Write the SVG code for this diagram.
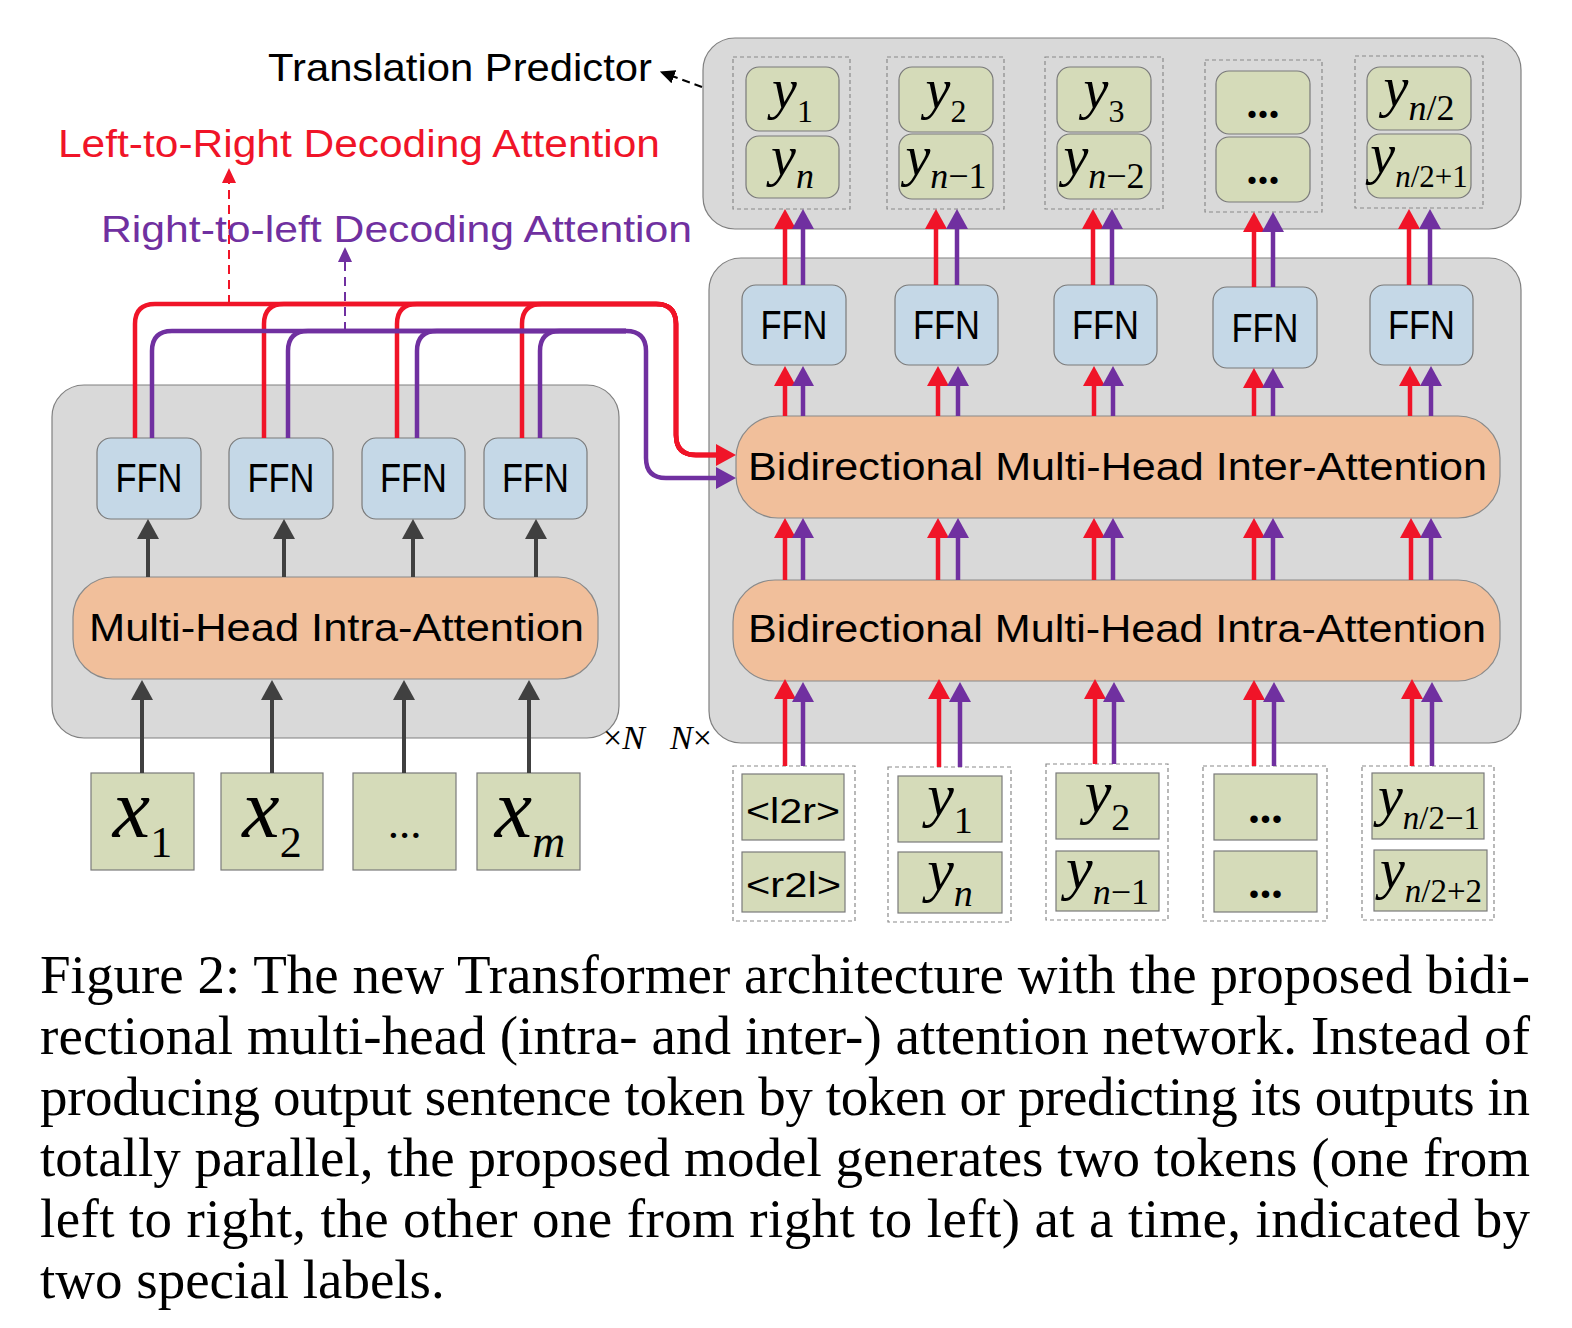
<svg xmlns="http://www.w3.org/2000/svg" width="1572" height="1328" viewBox="0 0 1572 1328">
<style>
.bg{fill:#d9d9d9;stroke:#808080;stroke-width:1.2}
.ffn{fill:#c5d8e7;stroke:#7a7a7a;stroke-width:1.2}
.att{fill:#f1bf9b;stroke:#8a8a8a;stroke-width:1.2}
.tok{fill:#d5dbb9;stroke:#7a7a7a;stroke-width:1.2}
.grp{fill:none;stroke:#8a8a8a;stroke-width:1.2;stroke-dasharray:4 3}
.sans{font-family:"Liberation Sans",Arial,sans-serif}
.serif{font-family:"Liberation Serif","Times New Roman",serif}
.lbl{font-family:"Liberation Sans",Arial,sans-serif;fill:#000}
.r{stroke:#f01428;stroke-width:4.5;fill:none}
.p{stroke:#7030a0;stroke-width:4.5;fill:none}
.k{stroke:#404040;stroke-width:4;fill:none}
.math{font-family:"Liberation Serif","Times New Roman",serif;fill:#000}
.it{font-style:italic}
.cap{font-family:"Liberation Serif","Times New Roman",serif;font-size:55px;fill:#000}
</style>
<defs>
<marker id="hr" viewBox="0 0 20 22" markerWidth="20" markerHeight="22" refX="3" refY="11" orient="auto" markerUnits="userSpaceOnUse"><path d="M0,0 L20,11 L0,22 z" fill="#f01428"/></marker>
<marker id="hp" viewBox="0 0 20 22" markerWidth="20" markerHeight="22" refX="3" refY="11" orient="auto" markerUnits="userSpaceOnUse"><path d="M0,0 L20,11 L0,22 z" fill="#7030a0"/></marker>
<marker id="hk" viewBox="0 0 20 22" markerWidth="20" markerHeight="22" refX="3" refY="11" orient="auto" markerUnits="userSpaceOnUse"><path d="M0,0 L20,11 L0,22 z" fill="#404040"/></marker>
<marker id="hrs" viewBox="0 0 15 14" markerWidth="15" markerHeight="14" refX="2" refY="7" orient="auto" markerUnits="userSpaceOnUse"><path d="M0,0 L15,7 L0,14 z" fill="#f01428"/></marker>
<marker id="hps" viewBox="0 0 15 14" markerWidth="15" markerHeight="14" refX="2" refY="7" orient="auto" markerUnits="userSpaceOnUse"><path d="M0,0 L15,7 L0,14 z" fill="#7030a0"/></marker>
<marker id="hks" viewBox="0 0 15 14" markerWidth="15" markerHeight="14" refX="2" refY="7" orient="auto" markerUnits="userSpaceOnUse"><path d="M0,0 L15,7 L0,14 z" fill="#000"/></marker>
</defs>
<rect width="1572" height="1328" fill="#fff"/>

<!-- containers -->
<g id="encoder-block"><rect class="bg" x="52" y="385" width="567" height="353" rx="32"/></g>
<g id="decoder-block"><rect class="bg" x="709" y="258" width="812" height="485" rx="32"/></g>
<g id="translation-predictor"><rect class="bg" x="703" y="38" width="818" height="191" rx="32"/></g>

<!-- labels -->
<g id="labels">
<text class="lbl" x="268" y="81" font-size="39" textLength="384" lengthAdjust="spacingAndGlyphs">Translation Predictor</text>
<text class="lbl" x="58" y="157" font-size="38" fill="#f01428" style="fill:#f01428" textLength="602" lengthAdjust="spacingAndGlyphs">Left-to-Right Decoding Attention</text>
<text class="lbl" x="101" y="242" font-size="37" style="fill:#7030a0" textLength="591" lengthAdjust="spacingAndGlyphs">Right-to-left Decoding Attention</text>
<text class="math" x="603" y="749" font-size="34">×<tspan class="it">N</tspan></text>
<text class="math" x="670" y="749" font-size="34"><tspan class="it">N</tspan>×</text>
</g>

<!-- encoder nodes -->
<g id="enc-ffn-1"><rect class="ffn" x="97" y="438" width="104" height="81" rx="14"/><text class="lbl" x="149" y="492" font-size="40" text-anchor="middle" textLength="67" lengthAdjust="spacingAndGlyphs">FFN</text></g>
<g id="enc-ffn-2"><rect class="ffn" x="229" y="438" width="104" height="81" rx="14"/><text class="lbl" x="281" y="492" font-size="40" text-anchor="middle" textLength="67" lengthAdjust="spacingAndGlyphs">FFN</text></g>
<g id="enc-ffn-3"><rect class="ffn" x="362" y="438" width="103" height="81" rx="14"/><text class="lbl" x="413.5" y="492" font-size="40" text-anchor="middle" textLength="67" lengthAdjust="spacingAndGlyphs">FFN</text></g>
<g id="enc-ffn-4"><rect class="ffn" x="484" y="438" width="103" height="81" rx="14"/><text class="lbl" x="535.5" y="492" font-size="40" text-anchor="middle" textLength="67" lengthAdjust="spacingAndGlyphs">FFN</text></g>
<g id="enc-attention"><rect class="att" x="73" y="577" width="525" height="102" rx="40"/><text class="lbl" x="89" y="641" font-size="39" textLength="495" lengthAdjust="spacingAndGlyphs">Multi-Head Intra-Attention</text></g>

<g id="enc-x1"><rect class="tok" x="91" y="773" width="103" height="97"/><text class="math" x="142.5" y="837" font-size="84" text-anchor="middle"><tspan class="it">x</tspan><tspan font-size="44" dy="20">1</tspan></text></g>
<g id="enc-x2"><rect class="tok" x="221" y="773" width="102" height="97"/><text class="math" x="272" y="837" font-size="84" text-anchor="middle"><tspan class="it">x</tspan><tspan font-size="44" dy="20">2</tspan></text></g>
<g id="enc-xdots"><rect class="tok" x="353" y="773" width="103" height="97"/><text class="math" x="404.5" y="838" font-size="45" text-anchor="middle">...</text></g>
<g id="enc-xm"><rect class="tok" x="477" y="773" width="103" height="97"/><text class="math" x="530" y="837" font-size="84" text-anchor="middle"><tspan class="it">x</tspan><tspan class="it" font-size="46" dy="20">m</tspan></text></g>

<!-- decoder nodes -->
<g id="dec-ffn-1"><rect class="ffn" x="742" y="285" width="104" height="80" rx="14"/><text class="lbl" x="794" y="339" font-size="40" text-anchor="middle" textLength="67" lengthAdjust="spacingAndGlyphs">FFN</text></g>
<g id="dec-ffn-2"><rect class="ffn" x="895" y="285" width="103" height="80" rx="14"/><text class="lbl" x="946.5" y="339" font-size="40" text-anchor="middle" textLength="67" lengthAdjust="spacingAndGlyphs">FFN</text></g>
<g id="dec-ffn-3"><rect class="ffn" x="1054" y="285" width="103" height="80" rx="14"/><text class="lbl" x="1105.5" y="339" font-size="40" text-anchor="middle" textLength="67" lengthAdjust="spacingAndGlyphs">FFN</text></g>
<g id="dec-ffn-4"><rect class="ffn" x="1213" y="287" width="104" height="81" rx="14"/><text class="lbl" x="1265" y="342" font-size="40" text-anchor="middle" textLength="67" lengthAdjust="spacingAndGlyphs">FFN</text></g>
<g id="dec-ffn-5"><rect class="ffn" x="1370" y="285" width="103" height="80" rx="14"/><text class="lbl" x="1421.5" y="339" font-size="40" text-anchor="middle" textLength="67" lengthAdjust="spacingAndGlyphs">FFN</text></g>
<g id="dec-inter-attention"><rect class="att" x="736" y="416" width="764" height="102" rx="42"/><text class="lbl" x="748" y="480" font-size="38" textLength="739" lengthAdjust="spacingAndGlyphs">Bidirectional Multi-Head Inter-Attention</text></g>
<g id="dec-intra-attention"><rect class="att" x="733" y="580" width="767" height="101" rx="42"/><text class="lbl" x="748" y="642" font-size="38" textLength="738" lengthAdjust="spacingAndGlyphs">Bidirectional Multi-Head Intra-Attention</text></g>

<!-- decoder inputs -->
<g id="in-col-1"><rect class="grp" x="733" y="766" width="122" height="155"/>
<rect class="tok" x="742" y="774" width="102" height="66"/><text class="lbl" x="793" y="823" font-size="35" text-anchor="middle" textLength="94" lengthAdjust="spacingAndGlyphs">&lt;l2r&gt;</text>
<rect class="tok" x="742" y="852" width="103" height="60"/><text class="lbl" x="793.5" y="897" font-size="35" text-anchor="middle" textLength="95" lengthAdjust="spacingAndGlyphs">&lt;r2l&gt;</text></g>
<g id="in-col-2"><rect class="grp" x="888" y="767" width="123" height="155"/>
<rect class="tok" x="898" y="776" width="104" height="66"/><text class="math" x="950" y="815" font-size="60" text-anchor="middle"><tspan class="it">y</tspan><tspan font-size="38" dy="18">1</tspan></text>
<rect class="tok" x="898" y="852" width="104" height="61"/><text class="math" x="950" y="890" font-size="60" text-anchor="middle"><tspan class="it">y</tspan><tspan class="it" font-size="38" dy="16">n</tspan></text></g>
<g id="in-col-3"><rect class="grp" x="1046" y="764" width="122" height="156"/>
<rect class="tok" x="1056" y="773" width="103" height="66"/><text class="math" x="1107.5" y="812" font-size="60" text-anchor="middle"><tspan class="it">y</tspan><tspan font-size="38" dy="18">2</tspan></text>
<rect class="tok" x="1056" y="851" width="103" height="60"/><text class="math" x="1107.5" y="888" font-size="60" text-anchor="middle"><tspan class="it">y</tspan><tspan font-size="36" dy="16"><tspan class="it">n</tspan>−1</tspan></text></g>
<g id="in-col-4"><rect class="grp" x="1203" y="766" width="124" height="155"/>
<rect class="tok" x="1214" y="774" width="103" height="66"/><text class="math" x="1265.5" y="823" font-size="46" font-weight="bold" text-anchor="middle">...</text>
<rect class="tok" x="1214" y="851" width="103" height="61"/><text class="math" x="1265.5" y="898" font-size="46" font-weight="bold" text-anchor="middle">...</text></g>
<g id="in-col-5"><rect class="grp" x="1362" y="766" width="132" height="154"/>
<rect class="tok" x="1372" y="773" width="112" height="66"/><text class="math" x="1429" y="815" font-size="56" text-anchor="middle"><tspan class="it">y</tspan><tspan font-size="33" dy="14"><tspan class="it">n</tspan>/2−1</tspan></text>
<rect class="tok" x="1374" y="850" width="113" height="61"/><text class="math" x="1431" y="888" font-size="56" text-anchor="middle"><tspan class="it">y</tspan><tspan font-size="33" dy="14"><tspan class="it">n</tspan>/2+2</tspan></text></g>

<!-- outputs -->
<g id="out-col-1"><rect class="grp" x="733" y="57" width="117" height="152"/>
<rect class="tok" x="746" y="67" width="93" height="64" rx="13"/><text class="math" x="792.5" y="108" font-size="56" text-anchor="middle"><tspan class="it">y</tspan><tspan font-size="32" dy="14">1</tspan></text>
<rect class="tok" x="746" y="136" width="93" height="62" rx="13"/><text class="math" x="792.5" y="175" font-size="56" text-anchor="middle"><tspan class="it">y</tspan><tspan class="it" font-size="36" dy="13">n</tspan></text></g>
<g id="out-col-2"><rect class="grp" x="887" y="57" width="117" height="152"/>
<rect class="tok" x="899" y="67" width="94" height="65" rx="13"/><text class="math" x="946" y="108" font-size="56" text-anchor="middle"><tspan class="it">y</tspan><tspan font-size="32" dy="14">2</tspan></text>
<rect class="tok" x="899" y="134" width="94" height="65" rx="13"/><text class="math" x="946" y="175" font-size="56" text-anchor="middle"><tspan class="it">y</tspan><tspan font-size="36" dy="13"><tspan class="it">n</tspan>−1</tspan></text></g>
<g id="out-col-3"><rect class="grp" x="1045" y="57" width="118" height="152"/>
<rect class="tok" x="1057" y="67" width="94" height="65" rx="13"/><text class="math" x="1104" y="108" font-size="56" text-anchor="middle"><tspan class="it">y</tspan><tspan font-size="32" dy="14">3</tspan></text>
<rect class="tok" x="1057" y="134" width="94" height="65" rx="13"/><text class="math" x="1104" y="175" font-size="56" text-anchor="middle"><tspan class="it">y</tspan><tspan font-size="36" dy="13"><tspan class="it">n</tspan>−2</tspan></text></g>
<g id="out-col-4"><rect class="grp" x="1205" y="60" width="117" height="152"/>
<rect class="tok" x="1216" y="71" width="94" height="63" rx="13"/><text class="math" x="1263" y="118" font-size="44" font-weight="bold" text-anchor="middle">...</text>
<rect class="tok" x="1216" y="137" width="94" height="65" rx="13"/><text class="math" x="1263" y="184" font-size="44" font-weight="bold" text-anchor="middle">...</text></g>
<g id="out-col-5"><rect class="grp" x="1355" y="56" width="128" height="152"/>
<rect class="tok" x="1367" y="67" width="104" height="63" rx="13"/><text class="math" x="1419" y="106" font-size="56" text-anchor="middle"><tspan class="it">y</tspan><tspan font-size="36" dy="14"><tspan class="it">n</tspan>/2</tspan></text>
<rect class="tok" x="1367" y="134" width="104" height="64" rx="13"/><text class="math" x="1419" y="173" font-size="56" text-anchor="middle"><tspan class="it">y</tspan><tspan font-size="31" dy="14"><tspan class="it">n</tspan>/2+1</tspan></text></g>

<!-- connectors -->
<g id="connectors">
<!-- encoder dark arrows -->
<line class="k" x1="148" y1="577" x2="148" y2="536" marker-end="url(#hk)"/>
<line class="k" x1="284" y1="577" x2="284" y2="536" marker-end="url(#hk)"/>
<line class="k" x1="413" y1="577" x2="413" y2="536" marker-end="url(#hk)"/>
<line class="k" x1="536" y1="577" x2="536" y2="536" marker-end="url(#hk)"/>
<line class="k" x1="142" y1="773" x2="142" y2="697" marker-end="url(#hk)"/>
<line class="k" x1="272" y1="773" x2="272" y2="697" marker-end="url(#hk)"/>
<line class="k" x1="404" y1="773" x2="404" y2="697" marker-end="url(#hk)"/>
<line class="k" x1="529" y1="773" x2="529" y2="697" marker-end="url(#hk)"/>

<!-- encoder to decoder routes -->
<path class="r" d="M135,438 V324 Q135,304 155,304 H656 Q676,304 676,324 V435 Q676,455 696,455 H719" marker-end="url(#hr)"/>
<path class="r" d="M264,438 V324 Q264,304 284,304 H656 Q676,304 676,324 V435 Q676,455 696,455 H719"/>
<path class="r" d="M397,438 V324 Q397,304 417,304 H656 Q676,304 676,324 V435 Q676,455 696,455 H719"/>
<path class="r" d="M522,438 V324 Q522,304 542,304 H656 Q676,304 676,324 V435 Q676,455 696,455 H719"/>
<path class="p" d="M152,438 V351 Q152,331 172,331 H626 Q646,331 646,351 V458 Q646,478 666,478 H719" marker-end="url(#hp)"/>
<path class="p" d="M288,438 V351 Q288,331 308,331 H626"/>
<path class="p" d="M417,438 V351 Q417,331 437,331 H626"/>
<path class="p" d="M540,438 V351 Q540,331 560,331 H626"/>
<line x1="229" y1="304" x2="229" y2="181" stroke="#f01428" stroke-width="2" stroke-dasharray="9 6" marker-end="url(#hrs)"/>
<line x1="345" y1="331" x2="345" y2="260" stroke="#7030a0" stroke-width="2" stroke-dasharray="9 6" marker-end="url(#hps)"/>
<line x1="702" y1="87" x2="672" y2="76" stroke="#000" stroke-width="2" stroke-dasharray="8 5" marker-end="url(#hks)"/>

<!-- decoder columns: red -->
<line class="r" x1="785" y1="766" x2="785" y2="696" marker-end="url(#hr)"/>
<line class="r" x1="785" y1="580" x2="785" y2="535" marker-end="url(#hr)"/>
<line class="r" x1="785" y1="416" x2="785" y2="383" marker-end="url(#hr)"/>
<line class="r" x1="785" y1="285" x2="785" y2="226" marker-end="url(#hr)"/>
<line class="r" x1="939" y1="767" x2="939" y2="696" marker-end="url(#hr)"/>
<line class="r" x1="938" y1="580" x2="938" y2="535" marker-end="url(#hr)"/>
<line class="r" x1="938" y1="416" x2="938" y2="383" marker-end="url(#hr)"/>
<line class="r" x1="936" y1="285" x2="936" y2="226" marker-end="url(#hr)"/>
<line class="r" x1="1095" y1="764" x2="1095" y2="696" marker-end="url(#hr)"/>
<line class="r" x1="1094" y1="580" x2="1094" y2="535" marker-end="url(#hr)"/>
<line class="r" x1="1094" y1="416" x2="1094" y2="383" marker-end="url(#hr)"/>
<line class="r" x1="1093" y1="285" x2="1093" y2="226" marker-end="url(#hr)"/>
<line class="r" x1="1254" y1="766" x2="1254" y2="697" marker-end="url(#hr)"/>
<line class="r" x1="1254" y1="580" x2="1254" y2="535" marker-end="url(#hr)"/>
<line class="r" x1="1254" y1="416" x2="1254" y2="385" marker-end="url(#hr)"/>
<line class="r" x1="1254" y1="287" x2="1254" y2="229" marker-end="url(#hr)"/>
<line class="r" x1="1412" y1="766" x2="1412" y2="696" marker-end="url(#hr)"/>
<line class="r" x1="1411" y1="580" x2="1411" y2="535" marker-end="url(#hr)"/>
<line class="r" x1="1410" y1="416" x2="1410" y2="383" marker-end="url(#hr)"/>
<line class="r" x1="1409" y1="285" x2="1409" y2="226" marker-end="url(#hr)"/>
<!-- decoder columns: purple -->
<line class="p" x1="803" y1="766" x2="803" y2="699" marker-end="url(#hp)"/>
<line class="p" x1="803" y1="580" x2="803" y2="535" marker-end="url(#hp)"/>
<line class="p" x1="803" y1="416" x2="803" y2="383" marker-end="url(#hp)"/>
<line class="p" x1="803" y1="285" x2="803" y2="226" marker-end="url(#hp)"/>
<line class="p" x1="960" y1="767" x2="960" y2="699" marker-end="url(#hp)"/>
<line class="p" x1="958" y1="580" x2="958" y2="535" marker-end="url(#hp)"/>
<line class="p" x1="958" y1="416" x2="958" y2="383" marker-end="url(#hp)"/>
<line class="p" x1="957" y1="285" x2="957" y2="226" marker-end="url(#hp)"/>
<line class="p" x1="1114" y1="764" x2="1114" y2="699" marker-end="url(#hp)"/>
<line class="p" x1="1113" y1="580" x2="1113" y2="535" marker-end="url(#hp)"/>
<line class="p" x1="1113" y1="416" x2="1113" y2="383" marker-end="url(#hp)"/>
<line class="p" x1="1112" y1="285" x2="1112" y2="226" marker-end="url(#hp)"/>
<line class="p" x1="1274" y1="766" x2="1274" y2="699" marker-end="url(#hp)"/>
<line class="p" x1="1273" y1="580" x2="1273" y2="535" marker-end="url(#hp)"/>
<line class="p" x1="1273" y1="416" x2="1273" y2="385" marker-end="url(#hp)"/>
<line class="p" x1="1273" y1="287" x2="1273" y2="229" marker-end="url(#hp)"/>
<line class="p" x1="1432" y1="766" x2="1432" y2="699" marker-end="url(#hp)"/>
<line class="p" x1="1431" y1="580" x2="1431" y2="535" marker-end="url(#hp)"/>
<line class="p" x1="1431" y1="416" x2="1431" y2="383" marker-end="url(#hp)"/>
<line class="p" x1="1430" y1="285" x2="1430" y2="226" marker-end="url(#hp)"/>
</g>

<!-- caption -->
<g id="caption">
<text class="cap" x="40" y="993" textLength="1490" lengthAdjust="spacing">Figure 2: The new Transformer architecture with the proposed bidi-</text>
<text class="cap" x="40" y="1054" textLength="1490" lengthAdjust="spacing">rectional multi-head (intra- and inter-) attention network. Instead of</text>
<text class="cap" x="40" y="1115" textLength="1490" lengthAdjust="spacing">producing output sentence token by token or predicting its outputs in</text>
<text class="cap" x="40" y="1176" textLength="1490" lengthAdjust="spacing">totally parallel, the proposed model generates two tokens (one from</text>
<text class="cap" x="40" y="1237" textLength="1490" lengthAdjust="spacing">left to right, the other one from right to left) at a time, indicated by</text>
<text class="cap" x="40" y="1298">two special labels.</text>
</g>
</svg>
